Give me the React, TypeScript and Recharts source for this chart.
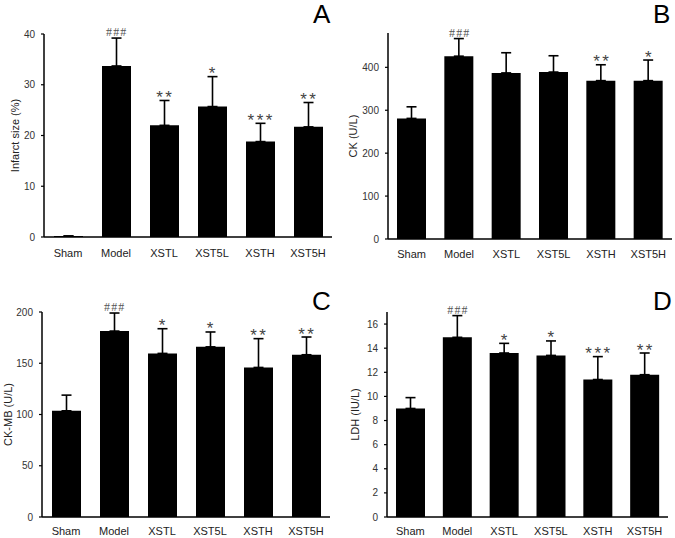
import React from 'react';
import { BarChart, Bar, XAxis, YAxis, ErrorBar, ReferenceDot, Label } from 'recharts';

const groups = ['Sham', 'Model', 'XSTL', 'XST5L', 'XSTH', 'XST5H'];

// A: infarct size (%)
const infarctMean = [0.2, 33.7, 22.0, 25.7, 18.8, 21.7];
const infarctSd = [0, 5.5, 4.9, 5.9, 3.6, 4.8];
const infarctMarks = ['', '###', '**', '*', '***', '**'];
const infarctTicks = [0, 10, 20, 30, 40];

// B: CK (U/L)
const ckMean = [281, 426, 387, 389, 369, 369];
const ckSd = [27, 41, 47, 38, 37, 48];
const ckMarks = ['', '###', '', '', '**', '*'];
const ckTicks = [0, 100, 200, 300, 400];

// C: CK-MB (U/L)
const ckmbMean = [103.6, 181.4, 159.6, 166, 145.9, 158.3];
const ckmbSd = [15.3, 17.6, 24.1, 14.5, 28.1, 17.3];
const ckmbMarks = ['', '###', '*', '*', '**', '**'];
const ckmbTicks = [0, 50, 100, 150, 200];

// D: LDH (IU/L)
const ldhMean = [9.0, 14.9, 13.6, 13.4, 11.4, 11.8];
const ldhSd = [0.9, 1.8, 0.8, 1.2, 1.9, 1.8];
const ldhMarks = ['', '###', '*', '*', '***', '**'];
const ldhTicks = [0, 2, 4, 6, 8, 10, 12, 14, 16];

const FONT = '"Liberation Sans", Arial, sans-serif';

const buildRows = (mean: number[], sd: number[], marks: string[]) =>
  groups.map((g, i) => ({ group: g, mean: mean[i], err: [0, sd[i]], top: mean[i] + sd[i], mark: marks[i] }));

const markLabel = (mark: string) => (props: any) => {
  const vb = props.viewBox || {};
  const cx = vb.x + (vb.width || 0) / 2;
  const cy = vb.y + (vb.height || 0) / 2;
  if (mark.startsWith('#')) {
    return (
      <text x={cx + 0.75} y={cy - 2} textAnchor="middle" fontFamily='"Liberation Serif", serif'
        fontSize={12} letterSpacing={1.2} fill="#555">
        {mark}
      </text>
    );
  }
  return (
    <text x={cx + 1.25} y={cy + 2.5} textAnchor="middle" fontFamily={FONT}
      fontSize={17} letterSpacing={2.5} fill="#444">
      {mark}
    </text>
  );
};

const yTitle = (text: string, offset: number) => (props: any) => {
  const vb = props.viewBox || {};
  const x = vb.x + offset;
  const y = vb.y + vb.height / 2;
  return (
    <text x={x} y={y} transform={`rotate(-90, ${x}, ${y})`} textAnchor="middle"
      dominantBaseline="central" fontFamily={FONT} fontSize={11} fill="#222">
      {text}
    </text>
  );
};

type PanelProps = {
  left: number; top: number; width: number; height: number;
  margin: { top: number; right: number; bottom: number; left: number };
  yWidth: number; xHeight: number; tickGap: number;
  rows: ReturnType<typeof buildRows>;
  domain: [number, number]; ticks: number[];
  title: string; titleOffset: number;
  letter: string; letterX: number; letterY: number;
};

const Panel: React.FC<PanelProps> = (p) => (
  <div style={{ position: 'absolute', left: p.left, top: p.top, width: p.width, height: p.height }}>
    <BarChart width={p.width} height={p.height} data={p.rows} margin={p.margin}>
      <XAxis dataKey="group" height={p.xHeight} tickLine={false} tickSize={0} tickMargin={p.tickGap}
        axisLine={{ stroke: '#000', strokeWidth: 1.5 }}
        tick={{ fontSize: 11, fill: '#222', fontFamily: FONT }} interval={0} />
      <YAxis width={p.yWidth} domain={p.domain} ticks={p.ticks} allowDataOverflow
        tickSize={3} tickMargin={6} tickLine={{ stroke: '#000', strokeWidth: 1.2 }}
        axisLine={{ stroke: '#000', strokeWidth: 1.5 }}
        tick={{ fontSize: 10, fill: '#333', fontFamily: FONT }}>
        <Label content={yTitle(p.title, p.titleOffset)} />
      </YAxis>
      <Bar dataKey="mean" fill="#000" barSize={29} isAnimationActive={false}>
        <ErrorBar dataKey="err" width={5} stroke="#000" strokeWidth={1.6} direction="y" />
      </Bar>
      {p.rows.filter((r) => r.mark).map((r) => (
        <ReferenceDot key={r.group} x={r.group} y={r.top} r={0} fill="none" stroke="none"
          ifOverflow="visible" label={<Label content={markLabel(r.mark)} />} />
      ))}
    </BarChart>
    <div style={{ position: 'absolute', left: p.letterX, top: p.letterY, fontFamily: FONT,
      fontSize: 26, lineHeight: '26px', color: '#000' }}>
      {p.letter}
    </div>
  </div>
);

export default function App() {
  return (
    <div style={{ position: 'absolute', left: 0, top: 0, width: 675, height: 538, background: '#fff' }}>
      <Panel left={0} top={0} width={338} height={268}
        margin={{ top: 34, right: 6, bottom: 0, left: 0 }} yWidth={44} xHeight={31} tickGap={12}
        rows={buildRows(infarctMean, infarctSd, infarctMarks)} domain={[0, 40]} ticks={infarctTicks}
        title="Infarct size (%)" titleOffset={15} letter="A" letterX={313} letterY={1} />
      <Panel left={337} top={0} width={338} height={268}
        margin={{ top: 33, right: 3, bottom: 0, left: 0 }} yWidth={51} xHeight={29} tickGap={11}
        rows={buildRows(ckMean, ckSd, ckMarks)} domain={[0, 480]} ticks={ckTicks}
        title="CK (U/L)" titleOffset={16} letter="B" letterX={316} letterY={1} />
      <Panel left={0} top={269} width={338} height={269}
        margin={{ top: 43, right: 8, bottom: 0, left: 0 }} yWidth={42} xHeight={21} tickGap={10}
        rows={buildRows(ckmbMean, ckmbSd, ckmbMarks)} domain={[0, 200]} ticks={ckmbTicks}
        title="CK-MB (U/L)" titleOffset={8} letter="C" letterX={312} letterY={19} />
      <Panel left={337} top={269} width={338} height={269}
        margin={{ top: 43, right: 7, bottom: 0, left: 0 }} yWidth={50} xHeight={21} tickGap={10}
        rows={buildRows(ldhMean, ldhSd, ldhMarks)} domain={[0, 17]} ticks={ldhTicks}
        title="LDH (IU/L)" titleOffset={18} letter="D" letterX={316} letterY={19} />
    </div>
  );
}
